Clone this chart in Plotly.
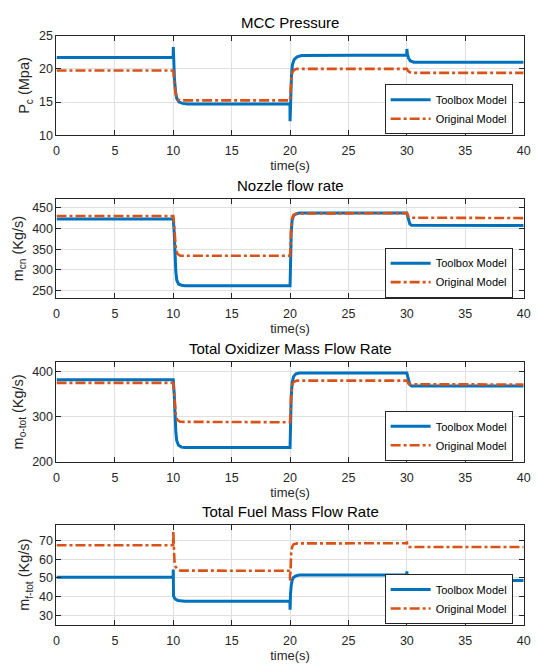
import plotly.graph_objects as go

# ---------------- data ----------------
titles = ["MCC Pressure", "Nozzle flow rate", "Total Oxidizer Mass Flow Rate", "Total Fuel Mass Flow Rate"]
ylabels = ["P<sub>c</sub> (Mpa)", "m<sub>cn</sub> (Kg/s)", "m<sub>o-tot</sub> (Kg/s)", "m<sub>f-tot</sub> (Kg/s)"]
series_names = ["Toolbox Model", "Original Model"]

# MCC pressure
t_pc_tb = [0, 9.99, 10.0, 10.02, 10.1, 10.2, 10.3, 10.5, 10.8, 11.2, 19.99, 20.0, 20.05, 20.12, 20.2, 20.35, 20.6, 21.0, 29.99, 30.0, 30.05, 30.15, 30.3, 30.6, 40]
pc_tb   = [21.7, 21.7, 23.3, 21.0, 18.5, 16.5, 15.5, 15.0, 14.8, 14.7, 14.7, 12.1, 16.0, 19.0, 20.6, 21.4, 21.8, 22.0, 22.1, 23.0, 22.2, 21.6, 21.2, 21.0, 21.0]
t_pc_or = [0, 10.0, 10.08, 10.15, 10.25, 10.4, 10.7, 20.0, 20.05, 20.12, 20.2, 20.35, 20.6, 30.0, 30.1, 30.25, 30.5, 40]
pc_or   = [19.75, 19.75, 18.0, 16.6, 15.7, 15.35, 15.25, 15.25, 17.0, 18.8, 19.5, 19.85, 20.0, 20.0, 19.7, 19.5, 19.4, 19.4]

# Nozzle flow rate
t_mcn_tb = [0, 10.0, 10.08, 10.15, 10.22, 10.3, 10.45, 10.7, 11.0, 20.0, 20.04, 20.1, 20.18, 20.3, 20.5, 20.8, 30.0, 30.08, 30.15, 30.25, 30.4, 40]
mcn_tb   = [423, 423, 390, 330, 295, 275, 266, 263, 262, 262, 330, 390, 420, 431, 435, 437, 437, 428, 418, 411, 408, 407]
t_mcn_or = [0, 10.0, 10.08, 10.15, 10.22, 10.35, 10.6, 20.0, 20.04, 20.1, 20.18, 20.3, 20.6, 30.0, 30.08, 30.15, 30.3, 40]
mcn_or   = [430, 430, 405, 370, 350, 339, 334, 334, 370, 405, 425, 433, 436, 437, 432, 428, 426, 425]

# Total oxidizer mass flow rate
t_mo_tb = [0, 10.0, 10.08, 10.15, 10.22, 10.3, 10.45, 10.7, 11.0, 20.0, 20.04, 20.1, 20.18, 20.3, 20.5, 20.8, 30.0, 30.08, 30.15, 30.25, 30.4, 40]
mo_tb   = [381, 381, 350, 300, 265, 246, 236, 232, 231, 231, 290, 345, 375, 388, 394, 396, 396, 386, 376, 370, 367, 367]
t_mo_or = [0, 10.0, 10.08, 10.15, 10.22, 10.35, 10.6, 20.0, 20.04, 20.1, 20.18, 20.3, 20.6, 30.0, 30.08, 30.15, 30.3, 40]
mo_or   = [374, 374, 350, 318, 302, 292, 288, 287, 318, 350, 369, 376, 379, 379, 375, 372, 371, 370.5]

# Total fuel mass flow rate
t_mf_tb = [0, 9.99, 10.0, 10.02, 10.1, 10.2, 10.4, 10.7, 11.0, 19.99, 20.0, 20.04, 20.1, 20.18, 20.3, 20.5, 20.8, 29.99, 30.0, 30.04, 30.2, 40]
mf_tb   = [50.4, 50.4, 54.5, 40.5, 39.3, 38.6, 38.0, 37.7, 37.6, 37.6, 33.1, 41.5, 46.0, 48.8, 50.3, 51.1, 51.5, 51.5, 53.5, 49.2, 48.7, 48.6]
t_mf_or = [0, 9.99, 10.0, 10.04, 10.1, 10.2, 10.35, 10.6, 19.99, 20.0, 20.04, 20.1, 20.18, 20.3, 20.6, 29.99, 30.0, 30.04, 30.2, 40]
mf_or   = [67.4, 67.4, 74.8, 63.0, 59.0, 56.0, 54.5, 53.9, 53.8, 48.6, 58.0, 63.5, 66.5, 67.9, 68.4, 68.5, 69.5, 66.8, 66.5, 66.5]

x_ticks = [0, 5, 10, 15, 20, 25, 30, 35, 40]
y_ticks = [[10, 15, 20, 25], [250, 300, 350, 400, 450], [200, 300, 400], [30, 40, 50, 60, 70]]
y_ranges = [[10, 25], [231, 472], [200, 420], [25, 78.4]]

panels = [
    (t_pc_tb, pc_tb, t_pc_or, pc_or),
    (t_mcn_tb, mcn_tb, t_mcn_or, mcn_or),
    (t_mo_tb, mo_tb, t_mo_or, mo_or),
    (t_mf_tb, mf_tb, t_mf_or, mf_or),
]

# ---------------- styling / layout ----------------
W, H = 538, 670
BLUE = "#0072BD"
ORANGE = "#D95319"
FONT = "Liberation Sans, Arial, sans-serif"
AX = "#262626"
plot_left, plot_right = 54.5, 530.5
tops = [29.3, 195.7, 362.7, 528.7]
bottoms = [131, 297.7, 464.3, 631]
leg_centers = [104.5, 271.3, 437.9, 604.7]
leg_right = 519.3

fig = go.Figure()
layout = dict(
    width=W, height=H, autosize=False,
    margin=dict(l=0, r=0, t=0, b=0, pad=0),
    paper_bgcolor="white", plot_bgcolor="white",
    font=dict(family=FONT, color=AX, size=12),
    showlegend=True,
    annotations=[],
)

for i, (tx1, y1, tx2, y2) in enumerate(panels):
    sfx = "" if i == 0 else str(i + 1)
    leg = "legend" + sfx
    fig.add_trace(go.Scatter(x=tx1, y=y1, mode="lines", name=series_names[0],
                             line=dict(color=BLUE, width=3),
                             xaxis="x" + sfx, yaxis="y" + sfx, legend=leg))
    fig.add_trace(go.Scatter(x=tx2, y=y2, mode="lines", name=series_names[1],
                             line=dict(color=ORANGE, width=2.6, dash="10px,3px,3px,3px"),
                             xaxis="x" + sfx, yaxis="y" + sfx, legend=leg))
    ydom = [1 - bottoms[i] / H, 1 - tops[i] / H]
    common = dict(showline=True, mirror="ticks", linecolor=AX, linewidth=1,
                  ticks="inside", ticklen=5, tickcolor=AX, tickwidth=1,
                  showgrid=True, gridcolor="#e0e0e0", gridwidth=1, zeroline=False,
                  tickfont=dict(family=FONT, size=12.5, color=AX))
    layout["xaxis" + sfx] = dict(common, domain=[plot_left / W, plot_right / W], anchor="y" + sfx,
                                 range=[0, 40], tickvals=x_ticks, ticklabelstandoff=4,
                                 title=dict(text="time(s)", font=dict(size=13, color=AX), standoff=3))
    layout["yaxis" + sfx] = dict(common, domain=ydom, anchor="x" + sfx,
                                 range=y_ranges[i], tickvals=y_ticks[i],
                                 title=dict(text=ylabels[i], font=dict(size=14.5, color=AX), standoff=5))
    layout[leg] = dict(x=leg_right / W, y=1 - leg_centers[i] / H, xanchor="right", yanchor="middle",
                       bgcolor="white", bordercolor="#262626", borderwidth=1,
                       font=dict(family=FONT, size=11, color="black"),
                       tracegroupgap=0, itemwidth=40)
    layout["annotations"].append(dict(text=titles[i], x=(plot_left + plot_right) / 2 / W,
                                      y=1 - (tops[i] - 13.5) / H, xref="paper", yref="paper",
                                      xanchor="center", yanchor="middle", showarrow=False,
                                      font=dict(family=FONT, size=15, color="black")))

fig.update_layout(**layout)
fig.write_html("out.html", config={"displayModeBar": False},
               post_script="document.body.style.margin='0';document.body.style.overflow='hidden';")
